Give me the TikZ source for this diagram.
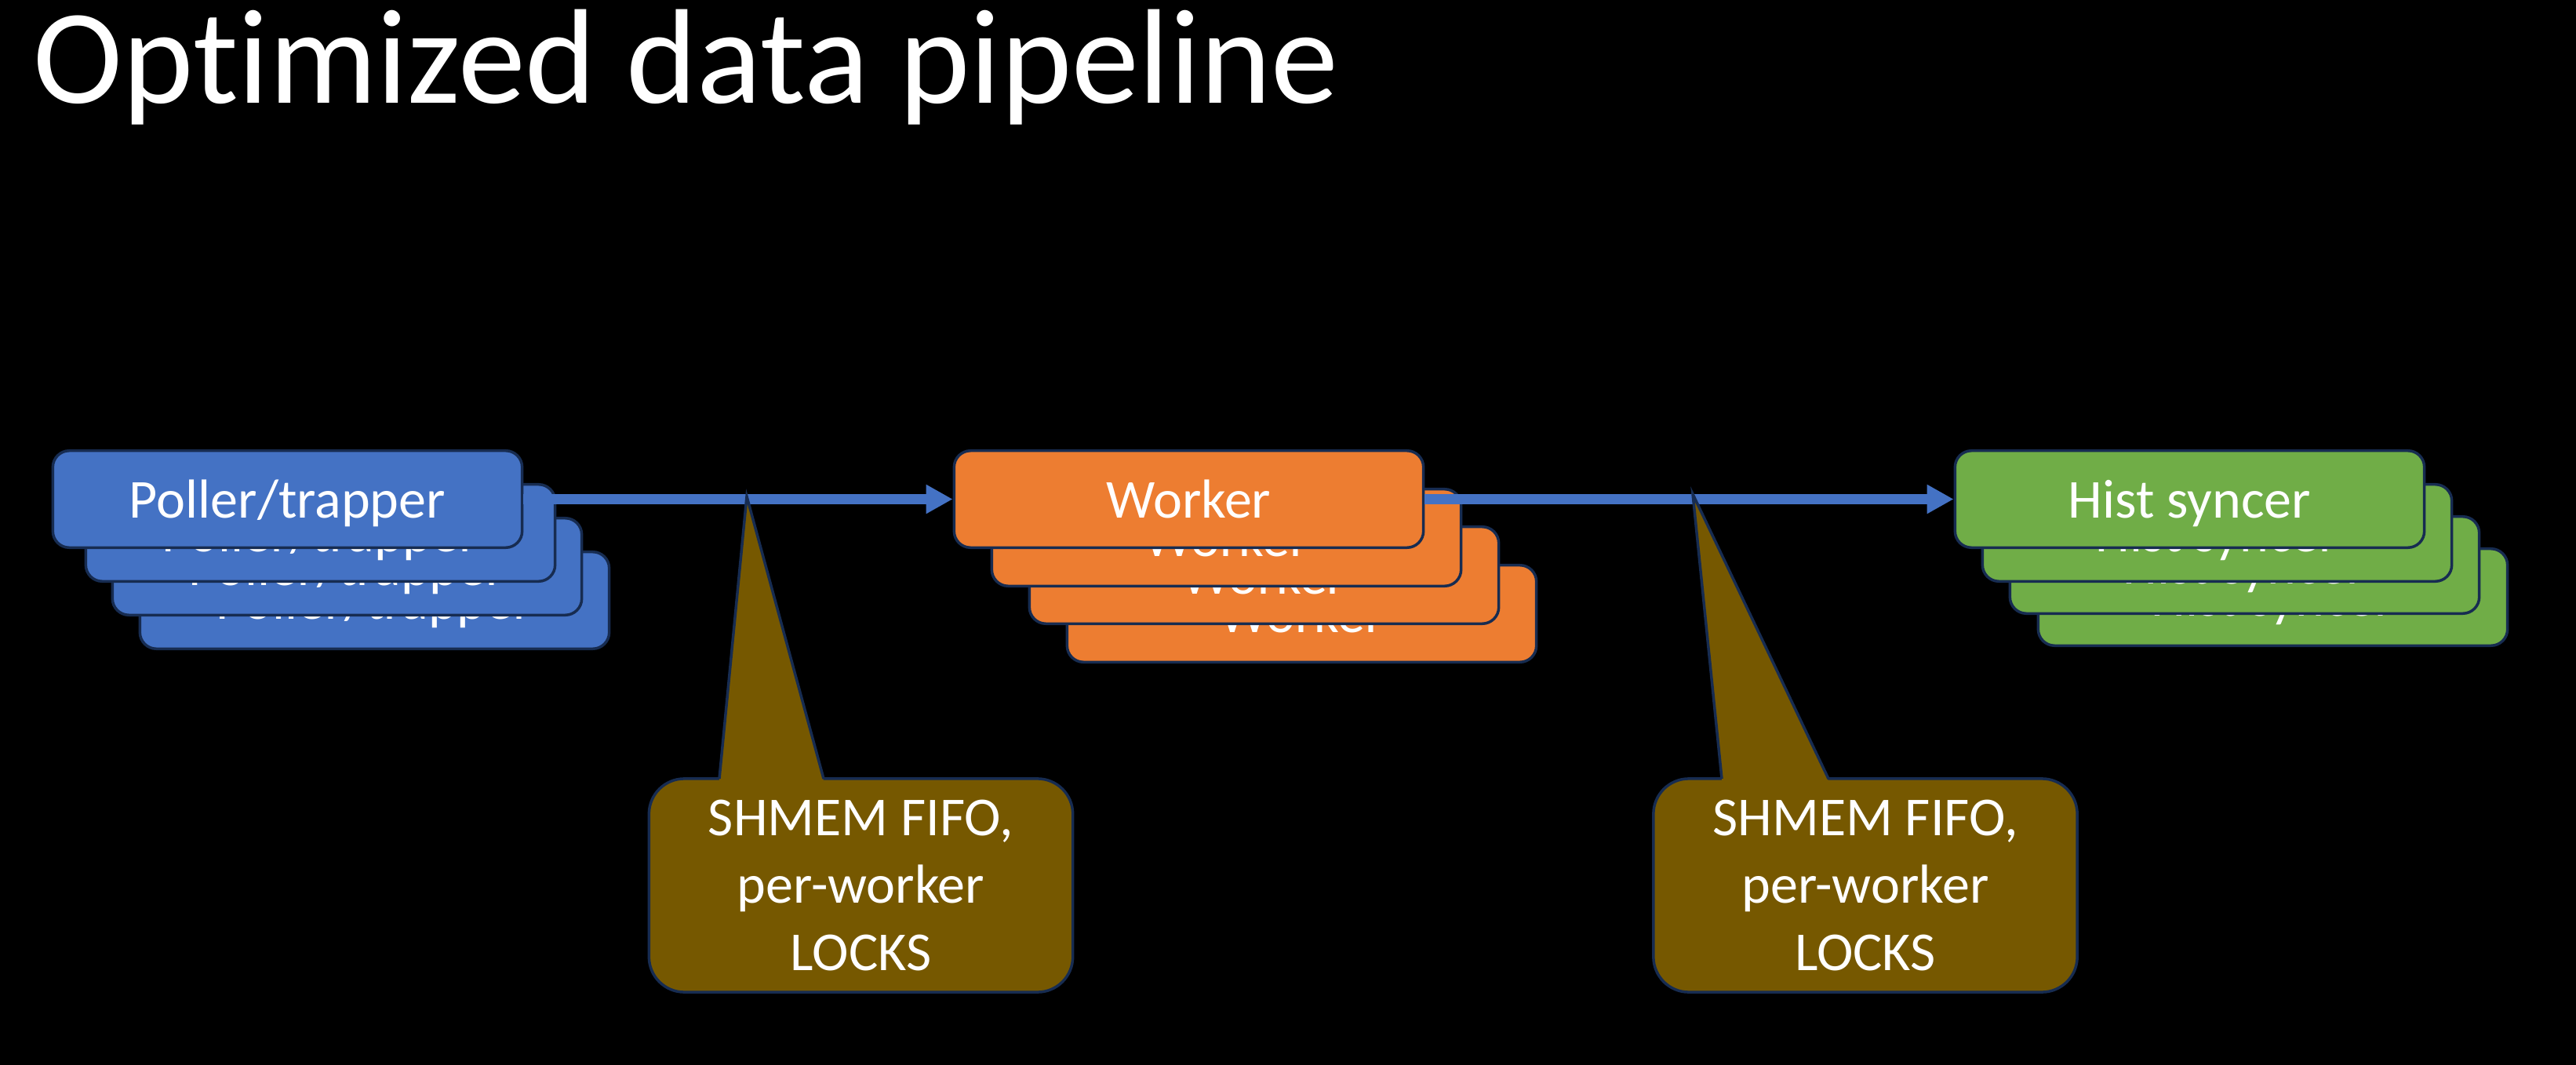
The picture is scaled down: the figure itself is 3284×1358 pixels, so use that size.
\documentclass[tikz,border=0pt]{standalone}
\usepackage{fontspec}
\setmainfont[Ligatures=NoCommon]{Carlito}
\usetikzlibrary{arrows.meta}
\definecolor{pblue}{HTML}{4472C4}
\definecolor{porange}{HTML}{ED7D31}
\definecolor{pgreen}{HTML}{70AD47}
\definecolor{pedge}{HTML}{172C51}
\definecolor{pgold}{HTML}{765800}
\tikzset{
  card/.style={draw=pedge, line width=0.035cm, rounded corners=0.21cm,
    minimum width=5.98cm, minimum height=1.235cm, inner sep=0pt, text=white,
    font=\fontsize{19.92}{24.47}\selectfont, text height=0.66cm, text depth=0.19cm},
  pcard/.style={card, fill=pblue},
  wcard/.style={card, fill=porange},
  hcard/.style={card, fill=pgreen},
  calloutbody/.style={draw=pedge, line width=0.035cm, fill=pgold, rounded corners=0.45cm,
    minimum width=5.40cm, minimum height=2.72cm, inner sep=0pt, text=white, align=center,
    font=\fontsize{19.92}{24.47}\selectfont},
  wedgefill/.style={fill=pgold},
  wedgeline/.style={draw=pedge, line width=0.035cm, line join=miter},
  flow/.style={draw=pblue, line width=0.12cm, -{Triangle[length=0.34cm, width=0.35cm]}},
}
\begin{document}
\begin{tikzpicture}[x=0.01cm, y=-0.01cm]
\fill[black] (0,0) rectangle (3284,1358);
\useasboundingbox (0,0) rectangle (3284,1358);

\node[anchor=base west, text=white, font=\fontsize{48.9}{58}\selectfont, inner sep=0pt] (title) at (42,132) {Optimized data pipeline};

% Poller stack
\node[pcard] (p3) at (477.5,765.5) {Poller/trapper};
\node[pcard] (p2) at (442.5,722.5) {Poller/trapper};
\node[pcard] (p1) at (408.5,679.5) {Poller/trapper};
\node[pcard] (p0) at (366.5,636.5) {Poller/trapper};

% Worker stack
\node[wcard] (w3) at (1659.5,782.5) {Worker};
\node[wcard] (w2) at (1611.5,733.5) {Worker};
\node[wcard] (w1) at (1563.5,685.5) {Worker};
\node[wcard] (w0) at (1515.5,636.5) {Worker};

% Hist syncer stack
\node[hcard] (h3) at (2897.5,761.5) {Hist syncer};
\node[hcard] (h2) at (2861.5,720.5) {Hist syncer};
\node[hcard] (h1) at (2826.5,679.5) {Hist syncer};
\node[hcard] (h0) at (2791.5,636.5) {Hist syncer};

% Arrows
\draw[flow] (p0.east) -- (w0.west);
\draw[flow] (w0.east) -- (h0.west);

% Callouts
\node[calloutbody] (c1) at (1097.5,1129) {SHMEM FIFO,\\per-worker\\LOCKS};
\coordinate (t1) at (952,633);
\fill[wedgefill] (t1) -- (916.6,997) -- (1050.4,997) -- cycle;
\draw[wedgeline] (917,993) -- (t1) -- (1050,993);

\node[calloutbody] (c2) at (2378,1129) {SHMEM FIFO,\\per-worker\\LOCKS};
\coordinate (t2) at (2158,630);
\fill[wedgefill] (t2) -- (2195.4,997) -- (2331.5,997) -- cycle;
\draw[wedgeline] (2195,993) -- (t2) -- (2331,993);
\end{tikzpicture}
\end{document}
